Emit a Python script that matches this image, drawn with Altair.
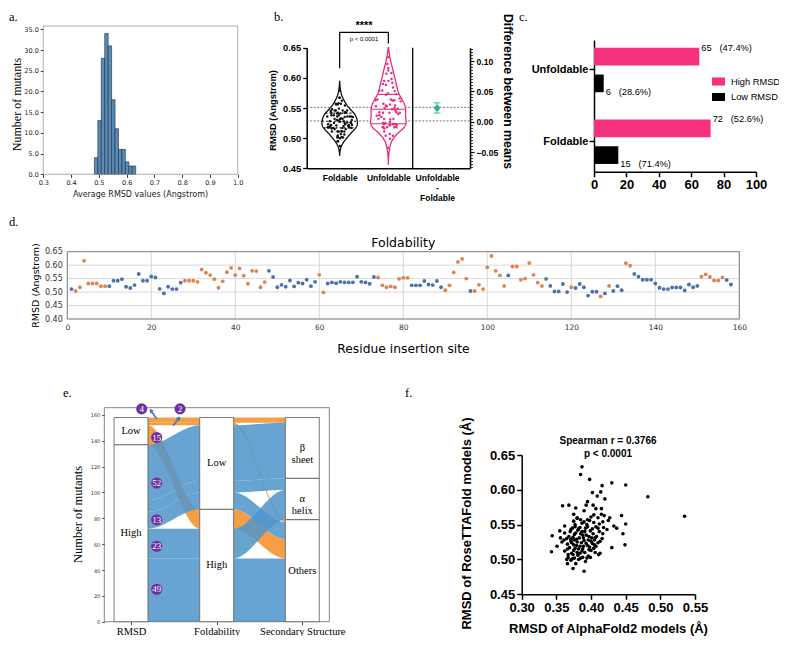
import altair as alt
import pandas as pd

alt.data_transformers.disable_max_rows()

# ============================ DATA ============================
# (a) histogram of the average RMSD of the mutants
hist_edges = [0.484, 0.4964, 0.5088, 0.5212, 0.5336, 0.546, 0.5584, 0.5708,
              0.5832, 0.5956, 0.608, 0.6204, 0.6328]
hist_counts = [4, 13, 28, 34, 31, 18, 11, 6, 6, 3, 2, 2]

# (d) RMSD at each residue insertion site (1..158) and foldability class
site_rmsd = [
    0.511, 0.504, 0.518, 0.616, 0.532, 0.532, 0.532, 0.522, 0.522, 0.522,
    0.542, 0.542, 0.548, 0.520, 0.515, 0.526, 0.567, 0.542, 0.542, 0.558,
    0.554, 0.512, 0.495, 0.520, 0.511, 0.511, 0.535, 0.542, 0.542, 0.542,
    0.538, 0.584, 0.572, 0.563, 0.548, 0.516, 0.540, 0.574, 0.590, 0.563,
    0.588, 0.561, 0.531, 0.579, 0.578, 0.518, 0.537, 0.579, 0.556, 0.518,
    0.527, 0.520, 0.543, 0.521, 0.535, 0.532, 0.546, 0.522, 0.538, 0.564,
    0.499, 0.532, 0.536, 0.533, 0.538, 0.536, 0.536, 0.536, 0.557, 0.538,
    0.536, 0.531, 0.556, 0.554, 0.525, 0.518, 0.521, 0.518, 0.549, 0.553,
    0.553, 0.525, 0.525, 0.525, 0.541, 0.528, 0.526, 0.541, 0.518, 0.507,
    0.525, 0.573, 0.612, 0.623, 0.550, 0.504, 0.504, 0.527, 0.511, 0.592,
    0.634, 0.579, 0.562, 0.523, 0.562, 0.595, 0.595, 0.546, 0.550, 0.608,
    0.564, 0.535, 0.523, 0.549, 0.523, 0.502, 0.502, 0.530, 0.500, 0.518,
    0.515, 0.530, 0.518, 0.487, 0.501, 0.501, 0.484, 0.495, 0.523, 0.504,
    0.522, 0.507, 0.607, 0.598, 0.567, 0.557, 0.546, 0.546, 0.546, 0.532,
    0.516, 0.511, 0.511, 0.517, 0.517, 0.517, 0.506, 0.528, 0.518, 0.523,
    0.557, 0.566, 0.556, 0.543, 0.543, 0.554, 0.545, 0.528]
site_class = [
    "F", "U", "U", "U", "U", "U", "U", "U", "U", "F",
    "F", "F", "F", "F", "F", "F", "F", "F", "F", "F",
    "F", "F", "F", "F", "F", "F", "F", "U", "U", "U",
    "U", "U", "U", "U", "U", "U", "U", "U", "U", "U",
    "U", "U", "U", "U", "U", "U", "U", "F", "F", "F",
    "F", "F", "F", "F", "F", "F", "F", "F", "F", "U",
    "U", "F", "F", "F", "F", "F", "F", "F", "F", "F",
    "F", "F", "F", "U", "U", "U", "U", "U", "U", "U",
    "U", "F", "F", "F", "F", "F", "F", "F", "F", "U",
    "U", "U", "U", "U", "U", "F", "U", "U", "U", "U",
    "U", "U", "U", "U", "F", "U", "U", "U", "U", "U",
    "U", "U", "U", "F", "F", "F", "F", "F", "F", "U",
    "F", "F", "F", "F", "F", "F", "U", "F", "U", "F",
    "F", "F", "U", "U", "F", "F", "F", "F", "F", "F",
    "F", "F", "F", "F", "F", "F", "F", "F", "F", "F",
    "U", "U", "U", "U", "U", "U", "F", "F"]
class_names = {"F": "Foldable", "U": "Unfoldable"}

# (b) difference between means (Unfoldable - Foldable) with its interval
diff_label = ["Unfoldable - Foldable"]
diff_est = [0.0225]
diff_low = [0.0142]
diff_high = [0.0313]

# (c) counts of high / low RMSD mutants per foldability class
c_group = ["Unfoldable", "Unfoldable", "Foldable", "Foldable"]
c_level = ["High RMSD", "Low RMSD", "High RMSD", "Low RMSD"]
c_count = [65, 6, 72, 15]
c_share = ["(47.4%)", "(28.6%)", "(52.6%)", "(71.4%)"]

# (e) alluvial flows RMSD -> Foldability -> Secondary structure
sankey_stages = ["RMSD", "Foldability", "Secondary Structure"]
flow_rmsd = ["High", "High", "Low", "High", "High", "High", "Low", "Low"]
flow_fold = ["High", "High", "High", "Low", "Low", "Low", "Low", "Low"]
flow_sec = ["Others", "a", "Others", "Others", "a", "b", "Others", "b"]
flow_count = [49, 23, 15, 13, 9, 43, 2, 4]
stage_levels = [["High", "Low"], ["High", "Low"], ["Others", "a", "b"]]
stage_names = [["High", "Low"], ["High", "Low"], ["Others", "α\nhelix", "β\nsheet"]]
bubble_text = ["4", "2", "15", "52", "13", "23", "49"]
bubble_x = [0.125, 0.572, 0.30, 0.30, 0.30, 0.30, 0.30]
bubble_y = [164.7, 164.7, 142.5, 107.2, 78.9, 58.4, 25.1]
arrow_id = ["4", "4", "2", "2"]
arrow_x = [0.30, 0.23, 0.49, 0.56]
arrow_y = [157.0, 163.5, 151.6, 157.5]
head_x = [0.23, 0.56]
head_y = [163.5, 157.5]
head_angle = [320, 40]

# (f) AlphaFold2 vs RoseTTAFold RMSD
af2_rmsd = [
    0.387, 0.385, 0.398, 0.430, 0.450, 0.416, 0.414, 0.402, 0.409, 0.482,
    0.420, 0.395, 0.393, 0.403, 0.359, 0.368, 0.378, 0.407, 0.415, 0.390,
    0.415, 0.404, 0.375, 0.444, 0.535, 0.400, 0.427, 0.380, 0.395, 0.417,
    0.450, 0.362, 0.377, 0.387, 0.394, 0.407, 0.437, 0.423, 0.355, 0.371,
    0.382, 0.412, 0.446, 0.417, 0.344, 0.376, 0.388, 0.397, 0.406, 0.361,
    0.371, 0.379, 0.390, 0.400, 0.410, 0.430, 0.449, 0.351, 0.366, 0.375,
    0.384, 0.395, 0.405, 0.343, 0.366, 0.375, 0.387, 0.397, 0.406, 0.413,
    0.411, 0.367, 0.372, 0.381, 0.388, 0.399, 0.365, 0.373, 0.385, 0.392,
    0.366, 0.378, 0.374, 0.390,
    0.370, 0.374, 0.378, 0.380, 0.383, 0.385, 0.372, 0.368, 0.376, 0.379,
    0.382, 0.386, 0.389, 0.391, 0.393, 0.396, 0.398, 0.401, 0.403, 0.405,
    0.365, 0.369, 0.373, 0.377, 0.381, 0.384, 0.387, 0.392, 0.395, 0.399,
    0.402, 0.408, 0.410, 0.412, 0.418, 0.362, 0.367, 0.371, 0.376, 0.380,
    0.384, 0.388, 0.391, 0.396, 0.400, 0.404, 0.375, 0.380, 0.385, 0.390,
    0.398, 0.404, 0.410, 0.419, 0.425, 0.433, 0.362, 0.358, 0.356, 0.393,
    0.389, 0.377, 0.371, 0.374, 0.382, 0.394, 0.402, 0.407, 0.413, 0.416]
rtf_rmsd = [
    0.633, 0.622, 0.615, 0.610, 0.607, 0.606, 0.597, 0.596, 0.591, 0.590,
    0.587, 0.583, 0.578, 0.578, 0.577, 0.578, 0.574, 0.573, 0.573, 0.570,
    0.565, 0.564, 0.565, 0.563, 0.562, 0.561, 0.560, 0.559, 0.557, 0.554,
    0.551, 0.548, 0.550, 0.552, 0.550, 0.547, 0.545, 0.543, 0.541, 0.543,
    0.544, 0.540, 0.537, 0.537, 0.534, 0.536, 0.535, 0.533, 0.531, 0.528,
    0.529, 0.529, 0.527, 0.526, 0.524, 0.517, 0.521, 0.519, 0.522, 0.521,
    0.519, 0.520, 0.521, 0.511, 0.515, 0.513, 0.512, 0.514, 0.510, 0.509,
    0.507, 0.507, 0.509, 0.506, 0.503, 0.503, 0.500, 0.501, 0.502, 0.497,
    0.494, 0.494, 0.487, 0.483,
    0.540, 0.532, 0.538, 0.525, 0.531, 0.537, 0.524, 0.533, 0.528, 0.520,
    0.515, 0.524, 0.531, 0.540, 0.523, 0.528, 0.518, 0.531, 0.537, 0.528,
    0.530, 0.517, 0.545, 0.547, 0.542, 0.546, 0.540, 0.545, 0.547, 0.541,
    0.544, 0.533, 0.545, 0.551, 0.546, 0.512, 0.503, 0.499, 0.502, 0.510,
    0.509, 0.515, 0.510, 0.505, 0.513, 0.516, 0.555, 0.560, 0.557, 0.554,
    0.556, 0.553, 0.560, 0.563, 0.556, 0.548, 0.538, 0.525, 0.531, 0.535,
    0.519, 0.516, 0.526, 0.507, 0.500, 0.502, 0.523, 0.519, 0.526, 0.530]

# ============================ LAYOUT HELPERS ============================
W, H = 771, 628
OX, OY = 8, 8          # figure pixel -> chart pixel (page margin)
SANS = "Liberation Sans"
SERIF = "Liberation Serif"
DEJAVU = "DejaVu Sans"


def sx(domain, a, b, **kw):
    return alt.Scale(domain=domain, range=[a - OX, b - OX], nice=False, **kw)


def sy(domain, a, b, **kw):
    return alt.Scale(domain=domain, range=[a - OY, b - OY], nice=False, **kw)


def axis(orient, at, values=None, title=None, tpos=None, lab=None, tit=None, **kw):
    d = dict(orient=orient, grid=False, labelFlush=False, labelOverlap=False, title=None)
    if orient == "bottom":
        d["offset"] = (at - OY) - H
    elif orient == "top":
        d["offset"] = -(at - OY)
    elif orient == "left":
        d["offset"] = -(at - OX)
    else:
        d["offset"] = (at - OX) - W
    if values is not None:
        d["values"] = values
    if lab:
        d.update(labelFont=lab[0], labelFontSize=lab[1], labelFontWeight=lab[2], labelColor=lab[3])
    if title:
        d["title"] = title
        tx, ty = tpos
        if orient in ("bottom", "top"):
            d.update(titleX=tx - OX, titleY=ty - at, titleAngle=0)
        else:
            d.update(titleX=tx - at, titleY=ty - OY, titleAngle=270 if orient == "left" else 90)
        d.update(titleBaseline="middle", titleAlign="center", titleFont=tit[0],
                 titleFontSize=tit[1], titleFontWeight=tit[2], titleColor=tit[3])
    d.update(kw)
    return alt.Axis(**d)


L = []

# ============================ (a) ============================
A_X = sx([0.3, 1.0], 43.3, 237.7, zero=False)
A_Y = sy([0, 35.8], 174.3, 26, zero=False)
hist_df = pd.DataFrame({"lo": hist_edges[:-1], "hi": hist_edges[1:], "n": hist_counts,
                        "base": [0] * len(hist_counts)})
a_lab = (DEJAVU, 6.5, "normal", "#222")
L.append(alt.Chart(hist_df).mark_rect(fill="#5a8cba", stroke="#1c2833", strokeWidth=0.6).encode(
    x=alt.X("lo:Q", scale=A_X, axis=axis("bottom", 174.3, [0.3, 0.4, 0.5, 0.6, 0.7, 0.8, 0.9, 1.0],
                                          "Average RMSD values (Angstrom)", (140, 194), a_lab,
                                          (DEJAVU, 8, "normal", "#222"), format=".1f", domain=False,
                                          tickSize=3, tickColor="#333", labelPadding=2)),
    x2="hi:Q",
    y=alt.Y("n:Q", scale=A_Y, axis=axis("left", 43.3, [0, 5, 10, 15, 20, 25, 30, 35],
                                         "Number of mutants", (16, 104), a_lab,
                                         (SERIF, 12, "normal", "black"), format=".1f", domain=False,
                                         tickSize=3, tickColor="#333", labelPadding=2)),
    y2="base:Q"))
a_frame = pd.DataFrame({"x0": [0.3], "x1": [1.0], "y0": [0.0], "y1": [35.8]})
L.append(alt.Chart(a_frame).mark_rect(fillOpacity=0, stroke="#9a9a9a", strokeWidth=0.8).encode(
    x=alt.X("x0:Q", scale=A_X, axis=None), x2="x1:Q",
    y=alt.Y("y0:Q", scale=A_Y, axis=None), y2="y1:Q"))

# ============================ (b) ============================
site_df = pd.DataFrame({"site": list(range(1, len(site_rmsd) + 1)), "rmsd": site_rmsd,
                        "fold": [class_names[c] for c in site_class]})
B_Q = sx([-0.677, 2.677], 306.7, 470, zero=False)
B_Y = sy([0.45, 0.65], 168.3, 47.7, zero=False)
B_R = sy([-0.0768, 0.122], 168.3, 47.7, zero=False)
B_P = alt.Scale(type="point", domain=["Foldable", "Unfoldable", diff_label[0]],
                range=[306.7 - OX, 470 - OX], padding=0.677)
b_lab = (SANS, 9.4, "bold", "black")

L.append(alt.Chart(site_df).transform_aggregate(m="mean(rmsd)", groupby=["fold"]).transform_calculate(
    x0="-0.677", x1="2.677").mark_rule(strokeDash=[2, 1.5], color="#555", strokeWidth=0.8).encode(
    x=alt.X("x0:Q", scale=B_Q, axis=None), x2="x1:Q",
    y=alt.Y("m:Q", scale=B_Y, axis=axis("left", 306.7, [0.45, 0.5, 0.55, 0.6, 0.65], "RMSD (Angstrom)",
                                         (272, 110), b_lab, (SANS, 9.4, "bold", "black"), format=".2f",
                                         domainColor="black", domainWidth=1.5, tickColor="black",
                                         tickWidth=1.3, tickSize=4, labelPadding=2))))

HW = 0.365
violin_cfg = [("Foldable", 0, "#111111", [0.472, 0.594], 0.0075, [2, 2]),
              ("Unfoldable", 1, "#ec2a7a", [0.457, 0.65], 0.0095, None)]
for g, i, col, ext, bw, dash in violin_cfg:
    sub = alt.Chart(site_df).transform_filter(alt.datum.fold == g)
    L.append(sub.transform_density("rmsd", as_=["v", "dens"], extent=ext, bandwidth=bw, steps=160)
             .transform_joinaggregate(maxd="max(dens)")
             .transform_calculate(xl=f"{i} - {HW} * datum.dens / datum.maxd",
                                  xr=f"{i} + {HW} * datum.dens / datum.maxd")
             .mark_area(orient="horizontal", fill="white", stroke=col, strokeWidth=1.3)
             .encode(y=alt.Y("v:Q", scale=B_Y, axis=None), x=alt.X("xl:Q", scale=B_Q, axis=None),
                     x2="xr:Q"))
    rule_kw = dict(color=col, strokeWidth=1.1)
    if dash:
        rule_kw["strokeDash"] = dash
    L.append(sub.transform_joinaggregate(q1="q1(rmsd)", q2="median(rmsd)", q3="q3(rmsd)")
             .transform_density("rmsd", as_=["v", "dens"], groupby=["q1", "q2", "q3"], extent=ext,
                                bandwidth=bw, steps=160)
             .transform_joinaggregate(maxd="max(dens)")
             .transform_fold(["q1", "q2", "q3"], as_=["qn", "qv"])
             .transform_calculate(dist="abs(datum.v - datum.qv)")
             .transform_joinaggregate(mind="min(dist)", groupby=["qn"])
             .transform_filter("datum.dist == datum.mind")
             .transform_calculate(xl=f"{i} - {HW} * datum.dens / datum.maxd",
                                  xr=f"{i} + {HW} * datum.dens / datum.maxd")
             .mark_rule(**rule_kw)
             .encode(y=alt.Y("qv:Q", scale=B_Y, axis=None), x=alt.X("xl:Q", scale=B_Q, axis=None),
                     x2="xr:Q"))
    L.append(sub.transform_joinaggregate(mu="mean(rmsd)", sd="stdev(rmsd)")
             .transform_calculate(jx=f"{i} + {0.8 * HW} * exp(-0.5 * pow((datum.rmsd - datum.mu) / datum.sd, 2))"
                                     f" * (2 * ((datum.site * 0.618034) % 1) - 1)")
             .mark_circle(size=6, color=col, opacity=1)
             .encode(x=alt.X("jx:Q", scale=B_Q, axis=None), y=alt.Y("rmsd:Q", scale=B_Y, axis=None)))

div_df = pd.DataFrame({"x": [1.5], "y0": [0.45], "y1": [0.65]})
L.append(alt.Chart(div_df).mark_rule(color="black", strokeWidth=1.3).encode(
    x=alt.X("x:Q", scale=B_Q, axis=None), y=alt.Y("y0:Q", scale=B_Y, axis=None), y2="y1:Q"))

diff_df = pd.DataFrame({"cat": diff_label, "est": diff_est, "lo": diff_low, "hi": diff_high})
teal = "#36ae98"
L.append(alt.Chart(diff_df).mark_rule(color=teal, strokeWidth=1.2).encode(
    x=alt.X("cat:N", scale=B_P, axis=axis("bottom", 168.3, None, None, None, (SANS, 8.5, "bold", "black"),
                                           labelExpr="datum.value == 'Unfoldable - Foldable' ? ['Unfoldable', '-', 'Foldable'] : datum.value",
                                           ticks=False, domainColor="black", domainWidth=1.5,
                                           labelPadding=5, labelLineHeight=10, labelAngle=0)),
    y=alt.Y("lo:Q", scale=B_R, axis=axis("right", 470, [-0.05, 0.0, 0.05, 0.1], "Difference between means",
                                          (507, 91), (SANS, 8.6, "bold", "black"), (SANS, 12.3, "bold", "black"),
                                          format=".2f", domainColor="black", domainWidth=1.5,
                                          tickColor="black", tickSize=4, tickWidth=1.2, labelPadding=2)),
    y2="hi:Q"))
minor_vals = [round(-0.075 + 0.005 * k, 3) for k in range(40)]
L.append(alt.Chart(diff_df).transform_fold(["lo", "hi"], as_=["end", "val"]).mark_tick(
    color=teal, size=7, thickness=1.2, orient="horizontal").encode(
    x=alt.X("cat:N", scale=B_P, axis=None),
    y=alt.Y("val:Q", scale=B_R, axis=axis("right", 470, minor_vals, labels=False, domain=False,
                                           tickSize=2.5, tickColor="black", tickWidth=0.8))))
L.append(alt.Chart(diff_df).mark_circle(size=32, color=teal, opacity=1).encode(
    x=alt.X("cat:N", scale=B_P, axis=None), y=alt.Y("est:Q", scale=B_R, axis=None)))

brk_df = pd.DataFrame({"bx": [0, 0, 1, 1], "by": [0.616, 0.6755, 0.6755, 0.657], "o": [0, 1, 2, 3]})
L.append(alt.Chart(brk_df).mark_line(color="black", strokeWidth=1.2).encode(
    x=alt.X("bx:Q", scale=B_Q, axis=None), y=alt.Y("by:Q", scale=B_Y, axis=None), order="o:Q"))
sig_df = pd.DataFrame({"tx": [0.5], "ty": [0.6855], "t": ["****"]})
L.append(alt.Chart(sig_df).mark_text(font=SANS, fontSize=11, fontWeight="bold", baseline="middle").encode(
    x=alt.X("tx:Q", scale=B_Q, axis=None), y=alt.Y("ty:Q", scale=B_Y, axis=None), text="t:N"))
p_df = pd.DataFrame({"tx": [0.5], "ty": [0.6645], "t": ["p < 0.0001"]})
L.append(alt.Chart(p_df).mark_text(font=SANS, fontSize=6, baseline="middle").encode(
    x=alt.X("tx:Q", scale=B_Q, axis=None), y=alt.Y("ty:Q", scale=B_Y, axis=None), text="t:N"))

# ============================ (c) ============================
C_X = sx([0, 100], 594, 756)
C_Y = alt.Scale(type="band", domain=["Unfoldable", "Foldable"], range=[40 - OY, 171.7 - OY],
                paddingInner=0.38, paddingOuter=0.108)
C_O = alt.Scale(domain=["High RMSD", "Low RMSD"], paddingInner=0.34, paddingOuter=0)
c_df = pd.DataFrame({"grp": c_group, "lvl": c_level, "n": c_count, "share": c_share})
c_df["lab"] = c_df["n"].astype(str) + "\u00a0\u00a0\u00a0" + c_df["share"]
L.append(alt.Chart(c_df).mark_bar().encode(
    x=alt.X("n:Q", scale=C_X, axis=axis("bottom", 171.7, [0, 20, 40, 60, 80, 100], None, None,
                                         (SANS, 13, "bold", "black"), domainColor="black", domainWidth=1.5,
                                         tickColor="black", tickWidth=1.5, tickSize=5, labelPadding=2)),
    y=alt.Y("grp:N", scale=C_Y, axis=axis("left", 594, None, None, None, (SANS, 11, "bold", "black"),
                                           domainColor="black", domainWidth=1.5, tickColor="black",
                                           tickWidth=1.5, tickSize=5, labelPadding=1)),
    yOffset=alt.YOffset("lvl:N", scale=C_O),
    color=alt.Color("lvl:N", scale=alt.Scale(domain=["High RMSD", "Low RMSD"], range=["#f5327e", "#000000"]),
                    legend=alt.Legend(orient="none", legendX=712 - OX, legendY=75 - OY, title=None,
                                      symbolType="M-1,-0.62H1V0.62H-1Z", symbolSize=169,
                                      symbolStrokeWidth=0, labelFont=SANS, labelFontSize=9.3,
                                      labelColor="black", rowPadding=3.5, labelOffset=6))))
L.append(alt.Chart(c_df).mark_text(align="left", dx=2, baseline="middle", font=SANS, fontSize=9.3,
                                   color="black").encode(
    x=alt.X("n:Q", scale=C_X, axis=None), y=alt.Y("grp:N", scale=C_Y, axis=None),
    yOffset=alt.YOffset("lvl:N", scale=C_O), text="lab:N"))

# ============================ (d) ============================
D_X = sx([0, 160], 67.3, 739.3, zero=False)
D_Y = sy([0.40, 0.65], 319, 251.7, zero=False)
d_xticks = [0, 20, 40, 60, 80, 100, 120, 140, 160]
d_yticks = [0.40, 0.45, 0.50, 0.55, 0.60, 0.65]
gx = pd.DataFrame({"x": d_xticks, "y0": [0.40] * 9, "y1": [0.65] * 9})
gy = pd.DataFrame({"y": d_yticks, "x0": [0] * 6, "x1": [160] * 6})
L.append(alt.Chart(gx).mark_rule(color="#d4d4d4", strokeWidth=0.9).encode(
    x=alt.X("x:Q", scale=D_X, axis=None), y=alt.Y("y0:Q", scale=D_Y, axis=None), y2="y1:Q"))
L.append(alt.Chart(gy).mark_rule(color="#d4d4d4", strokeWidth=0.9).encode(
    y=alt.Y("y:Q", scale=D_Y, axis=None), x=alt.X("x0:Q", scale=D_X, axis=None), x2="x1:Q"))
d_frame = pd.DataFrame({"x0": [0], "x1": [160], "y0": [0.40], "y1": [0.65]})
L.append(alt.Chart(d_frame).mark_rect(fillOpacity=0, stroke="#777", strokeWidth=0.9).encode(
    x=alt.X("x0:Q", scale=D_X, axis=None), x2="x1:Q", y=alt.Y("y0:Q", scale=D_Y, axis=None), y2="y1:Q"))
L.append(alt.Chart(site_df).mark_circle(size=15, opacity=1).encode(
    x=alt.X("site:Q", scale=D_X, axis=axis("bottom", 319, d_xticks, "Residue insertion site", (403, 348),
                                            (DEJAVU, 7.5, "normal", "#333"), (DEJAVU, 12.3, "normal", "black"),
                                            domain=False, ticks=False, labelPadding=4)),
    y=alt.Y("rmsd:Q", scale=D_Y, axis=axis("left", 67.3, d_yticks, "RMSD (Angstrom)", (35, 285),
                                            (DEJAVU, 8, "normal", "#333"), (DEJAVU, 9.5, "normal", "black"),
                                            format=".2f", domain=False, ticks=False, labelPadding=5)),
    color=alt.Color("fold:N", scale=alt.Scale(domain=["Foldable", "Unfoldable"],
                                              range=["#4c72b0", "#dd8452"]), legend=None)))
dt_df = pd.DataFrame({"tx": [80], "ty": [0.6825], "t": ["Foldability"]})
L.append(alt.Chart(dt_df).mark_text(font=DEJAVU, fontSize=12.5, baseline="middle").encode(
    x=alt.X("tx:Q", scale=D_X, axis=None), y=alt.Y("ty:Q", scale=D_Y, axis=None), text="t:N"))

# ============================ (e) ============================
E_X = sx([-0.312, 2.315], 104.3, 329.3, zero=False)
E_Y = sy([0, 165.6], 621.7, 407.7, zero=False)
NW = 0.198
flows = pd.DataFrame({"rmsd": flow_rmsd, "fold": flow_fold, "sec": flow_sec, "n": flow_count})
stage_cols = ["rmsd", "fold", "sec"]
node_rows = []
for s, col in enumerate(stage_cols):
    tot = flows.groupby(col)["n"].sum()
    base = 0
    for lvl, name in zip(stage_levels[s], stage_names[s]):
        node_rows.append(dict(stage=s, label=name, lo=int(base), hi=int(base + tot[lvl])))
        base += tot[lvl]
nodes = pd.DataFrame(node_rows)
nodes["x0"] = nodes["stage"] - NW
nodes["x1"] = nodes["stage"] + NW
nodes["ym"] = (nodes["lo"] + nodes["hi"]) / 2
for s, col in enumerate(stage_cols):
    flows[col + "_r"] = flows[col].map({l: k for k, l in enumerate(stage_levels[s])})


def stacked(order):
    d = flows.sort_values([o + "_r" for o in order])
    return (d["n"].cumsum() - d["n"]).reindex(flows.index)


flows["y0"] = stacked(["rmsd", "fold", "sec"])
flows["y1"] = stacked(["fold", "rmsd", "sec"])
flows["y2"] = stacked(["sec", "fold", "rmsd"])
segs = []
for k, r in flows.iterrows():
    segs.append(dict(key=f"{k}a", col=0, rmsd=r["rmsd"], n=int(r["n"]), ya=int(r["y0"]), yb=int(r["y1"])))
    segs.append(dict(key=f"{k}b", col=1, rmsd=r["rmsd"], n=int(r["n"]), ya=int(r["y1"]), yb=int(r["y2"])))
seg_df = pd.DataFrame(segs)

# low-RMSD (orange) ribbons underneath, high-RMSD (blue) ribbons on top
for level, colr, op in [("Low", "#f39a3e", 0.95), ("High", "#4f95c9", 0.86)]:
    L.append(alt.Chart(seg_df[seg_df["rmsd"] == level])
             .transform_calculate(t="sequence(0, 31)")
             .transform_flatten(["t"])
             .transform_calculate(s="datum.t / 30")
             .transform_calculate(k="datum.s * datum.s * (3 - 2 * datum.s)",
                                  xx=f"datum.col + {NW} + datum.s * {1 - 2 * NW}")
             .transform_calculate(lo="datum.ya + (datum.yb - datum.ya) * datum.k")
             .transform_calculate(hi="datum.lo + datum.n")
             .mark_area(color=colr, opacity=op)
             .encode(x=alt.X("xx:Q", scale=E_X, axis=None), y=alt.Y("lo:Q", scale=E_Y, axis=None),
                     y2="hi:Q", detail="key:N"))

e_frame = pd.DataFrame({"x0": [-0.312], "x1": [2.315], "y0": [0.0], "y1": [165.6]})
L.append(alt.Chart(e_frame).mark_rect(fillOpacity=0, stroke="#666", strokeWidth=0.8).encode(
    x=alt.X("x0:Q", scale=E_X, axis=None), x2="x1:Q", y=alt.Y("y0:Q", scale=E_Y, axis=None), y2="y1:Q"))
stage_expr = "[" + ", ".join(f"'{s}'" for s in sankey_stages) + "][datum.value]"
L.append(alt.Chart(nodes).mark_rect(fill="white", stroke="#555", strokeWidth=0.8).encode(
    x=alt.X("x0:Q", scale=E_X, axis=axis("bottom", 621.7, [0, 1, 2], None, None, (SERIF, 10.5, "normal", "black"),
                                          labelExpr=stage_expr, domain=False, tickSize=3, tickColor="#444",
                                          labelPadding=2)),
    x2="x1:Q",
    y=alt.Y("lo:Q", scale=E_Y, axis=axis("left", 104.3, [0, 20, 40, 60, 80, 100, 120, 140, 160],
                                          "Number of mutants", (77, 514), (DEJAVU, 5, "normal", "#333"),
                                          (SERIF, 12.5, "normal", "black"), domain=False, tickSize=2.5,
                                          tickColor="#444", labelPadding=2)),
    y2="hi:Q"))
L.append(alt.Chart(nodes).mark_text(font=SERIF, fontSize=10.5, lineBreak="\n", baseline="middle").encode(
    x=alt.X("stage:Q", scale=E_X, axis=None), y=alt.Y("ym:Q", scale=E_Y, axis=None), text="label:N"))

arr_df = pd.DataFrame({"id": arrow_id, "ax": arrow_x, "ay": arrow_y, "o": [0, 1, 0, 1]})
L.append(alt.Chart(arr_df).mark_line(color="#4472c4", strokeWidth=1.6).encode(
    x=alt.X("ax:Q", scale=E_X, axis=None), y=alt.Y("ay:Q", scale=E_Y, axis=None), detail="id:N", order="o:Q"))
head_df = pd.DataFrame({"hx": head_x, "hy": head_y, "ang": head_angle})
L.append(alt.Chart(head_df).mark_point(shape="triangle-up", filled=True, size=22, color="#4472c4", opacity=1).encode(
    x=alt.X("hx:Q", scale=E_X, axis=None), y=alt.Y("hy:Q", scale=E_Y, axis=None), angle=alt.Angle("ang:Q", scale=None)))
bub_df = pd.DataFrame({"bx": bubble_x, "by": bubble_y, "t": bubble_text})
L.append(alt.Chart(bub_df).mark_circle(size=125, color="#7030a0", opacity=1).encode(
    x=alt.X("bx:Q", scale=E_X, axis=None), y=alt.Y("by:Q", scale=E_Y, axis=None)))
L.append(alt.Chart(bub_df).mark_text(font=SERIF, fontSize=9, color="white", baseline="middle").encode(
    x=alt.X("bx:Q", scale=E_X, axis=None), y=alt.Y("by:Q", scale=E_Y, axis=None), text="t:N"))

# ============================ (f) ============================
F_X = sx([0.30, 0.55], 521.7, 695, zero=False)
F_Y = sy([0.45, 0.65], 594.3, 455, zero=False)
f_df = pd.DataFrame({"af2": af2_rmsd, "rtf": rtf_rmsd})
f_lab = (SANS, 13, "bold", "black")
L.append(alt.Chart(f_df).mark_circle(size=13, color="black", opacity=1).encode(
    x=alt.X("af2:Q", scale=F_X, axis=axis("bottom", 594.3, [0.30, 0.35, 0.40, 0.45, 0.50, 0.55],
                                           "RMSD of AlphaFold2 models (Å)", (608, 628), f_lab,
                                           (SANS, 13, "bold", "black"), format=".2f", domainColor="black",
                                           domainWidth=1.5, tickColor="black", tickWidth=1.5, tickSize=5,
                                           labelPadding=2)),
    y=alt.Y("rtf:Q", scale=F_Y, axis=axis("left", 521.7, [0.45, 0.50, 0.55, 0.60, 0.65],
                                           "RMSD of RoseTTAFold models (Å)", (466, 523), f_lab,
                                           (SANS, 13, "bold", "black"), format=".2f", domainColor="black",
                                           domainWidth=1.5, tickColor="black", tickWidth=1.5, tickSize=5,
                                           labelPadding=2))))
sp_df = pd.DataFrame({"tx": [0.4245, 0.4245], "ty": [0.6701, 0.6514],
                      "t": ["Spearman r = 0.3766", "p < 0.0001"]})
L.append(alt.Chart(sp_df).mark_text(font=SANS, fontSize=10, fontWeight="bold", baseline="middle").encode(
    x=alt.X("tx:Q", scale=F_X, axis=None), y=alt.Y("ty:Q", scale=F_Y, axis=None), text="t:N"))

# ============================ panel letters ============================
letters = [("a.", 1, 9), ("b.", 266, 9), ("c.", 511, 9), ("d.", 1, 214), ("e.", 55, 385), ("f.", 397, 385)]
for t, lx, ly in letters:
    L.append(alt.Chart(pd.DataFrame({"t": [t]})).mark_text(
        font=SERIF, fontSize=12.5, align="left", baseline="middle").encode(
        x=alt.value(lx), y=alt.value(ly), text="t:N"))

chart = (alt.layer(*L)
         .resolve_scale(x="independent", y="independent", color="independent", yOffset="independent")
         .properties(width=W, height=H, padding=0, autosize="none", background="white")
         .configure_view(stroke=None))

chart.save("out.html", embed_options={"renderer": "svg", "actions": False})
